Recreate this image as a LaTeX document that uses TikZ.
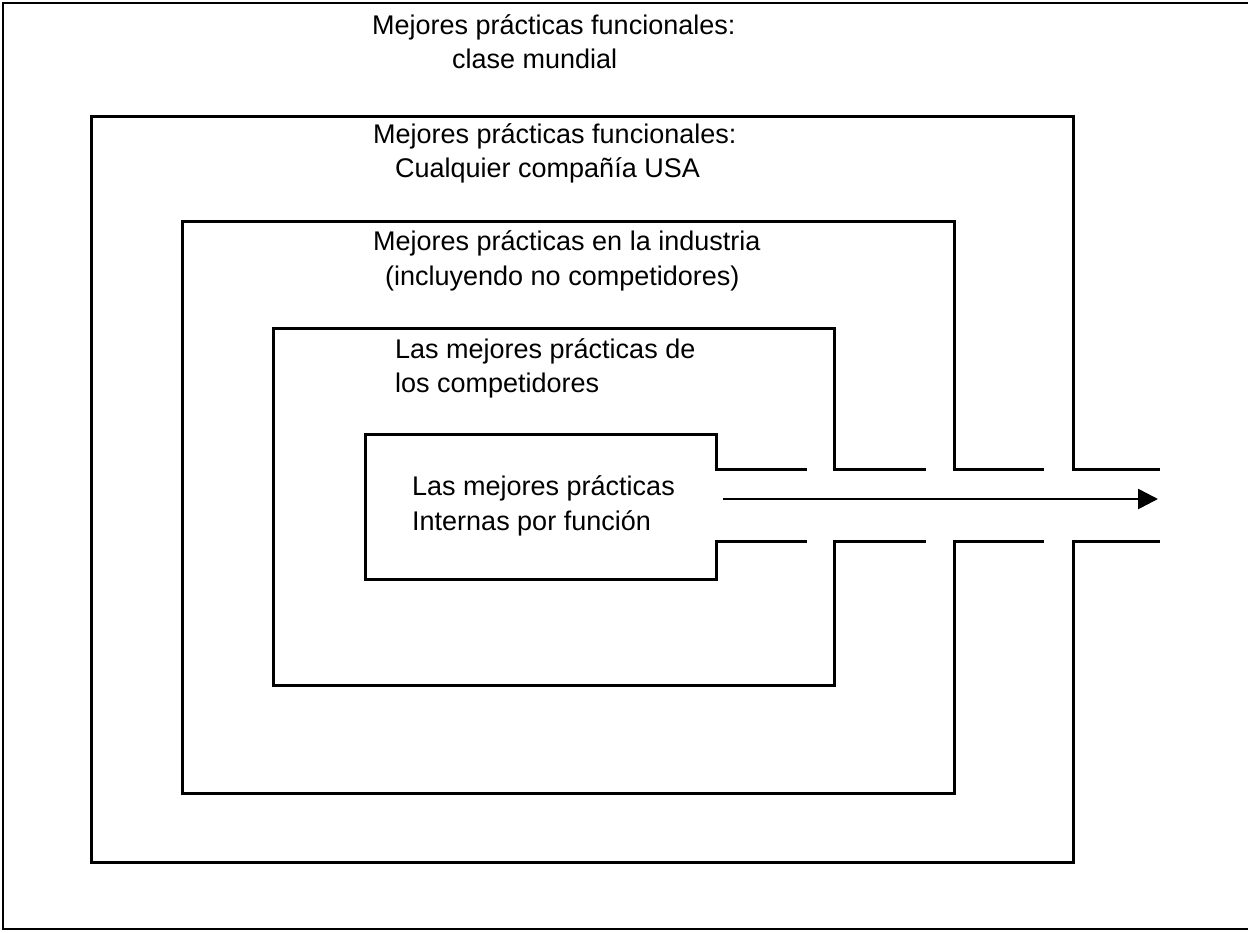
\documentclass[tikz,border=0pt]{standalone}
\usepackage{fontspec}
\setmainfont{Liberation Sans}
\usetikzlibrary{arrows.meta}
\begin{document}
\begin{tikzpicture}[x=1pt,y=-1pt,
  frame/.style={line width=3pt,line join=miter},
  label/.style={anchor=base west,inner sep=0pt,font=\fontsize{27}{33}\selectfont},
  flow/.style={line width=2.6pt,-{Triangle[length=20pt,width=20pt]}}]
\useasboundingbox (0,0) rectangle (1248,932);
\fill[white] (0,0) rectangle (1248,932);
% outer page frame, open on the right
\draw[line width=2.2pt] (1250,3) -- (3,3) -- (3,929) -- (1250,929);
% nested boxes, each opening towards the right
\draw[frame] (1160,469) -- (1073,469) -- (1073,116) -- (91,116) -- (91,862) -- (1073,862) -- (1073,541) -- (1160,541);
\draw[frame] (1044,469) -- (954,469) -- (954,221) -- (182,221) -- (182,793) -- (954,793) -- (954,541) -- (1044,541);
\draw[frame] (926,469) -- (834,469) -- (834,328) -- (273,328) -- (273,685) -- (834,685) -- (834,541) -- (926,541);
\draw[frame] (807,469) -- (716,469) -- (716,434) -- (365,434) -- (365,579) -- (716,579) -- (716,541) -- (807,541);
% labels
\node[label] (wa) at (372,34) {Mejores prácticas funcionales:};
\node[label] (wb) at (452,68) {clase mundial};
\node[label] (ua) at (373,143) {Mejores prácticas funcionales:};
\node[label] (ub) at (395,177) {Cualquier compañía USA};
\node[label] (ia) at (373,250) {Mejores prácticas en la industria};
\node[label] (ib) at (385,285) {(incluyendo no competidores)};
\node[label] (ca) at (395,358) {Las mejores prácticas de};
\node[label] (cb) at (395,392) {los competidores};
\node[label] (na) at (412,495) {Las mejores prácticas};
\node[label] (nb) at (412,530) {Internas por función};
% arrow leaving the inner box
\coordinate (start) at (723,499);
\coordinate (goal) at (1158,499);
\draw[flow] (start) -- (goal);
\end{tikzpicture}
\end{document}
